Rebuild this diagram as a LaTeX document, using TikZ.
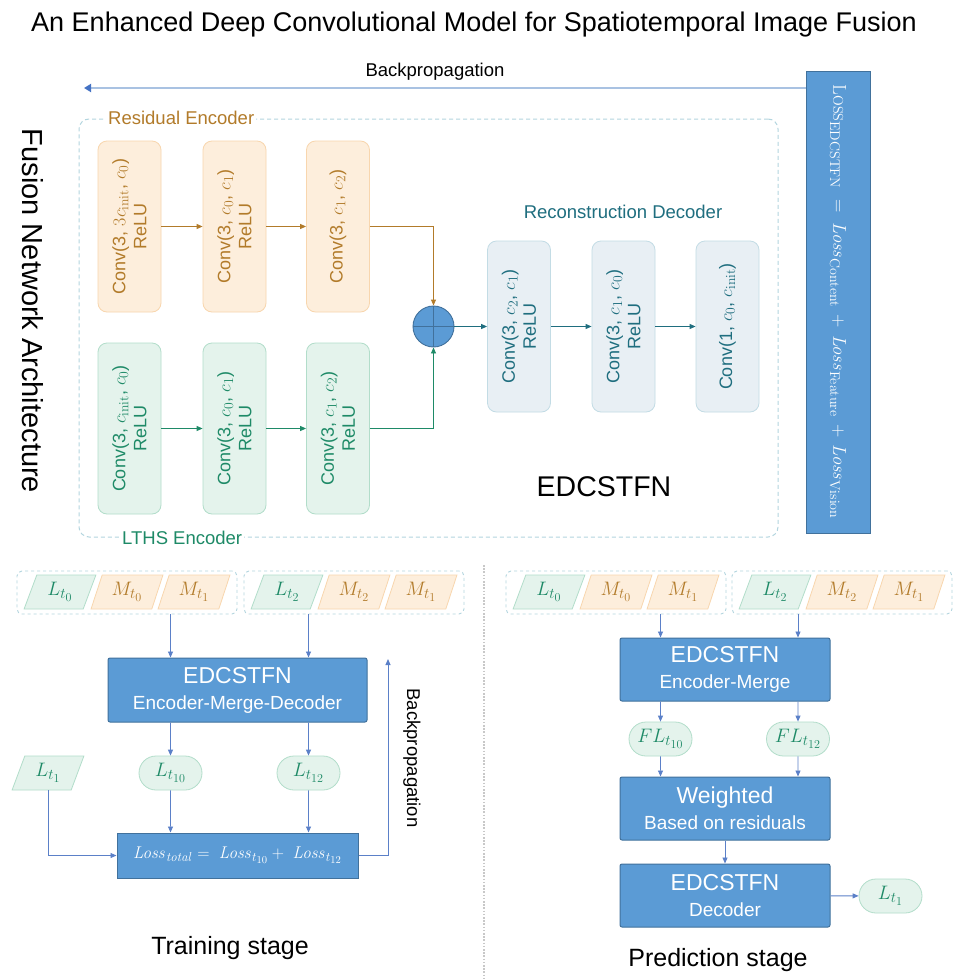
\documentclass[tikz,border=0pt]{standalone}
\usepackage{fix-cm}
\usepackage[no-math]{fontspec}
\setmainfont{Liberation Sans}
\usetikzlibrary{arrows.meta,shapes.geometric,shapes.misc,calc}
\renewcommand\defaultscriptratio{.76}
\renewcommand\defaultscriptscriptratio{.62}
\definecolor{obox}{HTML}{FDEEDC}
\definecolor{oline}{HTML}{F8D6AE}
\definecolor{otext}{HTML}{B27B2A}
\definecolor{gbox}{HTML}{E4F3EC}
\definecolor{gline}{HTML}{B2DDCA}
\definecolor{gtext}{HTML}{1E8A67}
\definecolor{dbox}{HTML}{E8EFF4}
\definecolor{dline}{HTML}{C3DCE5}
\definecolor{dtext}{HTML}{1F6E7F}
\definecolor{bfill}{HTML}{5B9BD5}
\definecolor{bline}{HTML}{41719C}
\definecolor{arr}{HTML}{5B80C8}
\definecolor{frm}{HTML}{B3D5DF}
\definecolor{bpline}{HTML}{A9C2E2}
\definecolor{bptip}{HTML}{4472C4}
\definecolor{sepc}{HTML}{C8C8C8}
\newcommand\fsz[2]{\fontsize{#1}{#2}\selectfont}
\begin{document}
\begin{tikzpicture}[x=1pt,y=-1pt,
  conv/.style={rounded corners=9pt, rotate=90, minimum width=171pt, minimum height=63pt, align=center, inner sep=0pt, font=\fsz{18}{21}, line width=0.8pt},
  obx/.style={conv, fill=obox, draw=oline, text=otext},
  gbx/.style={conv, fill=gbox, draw=gline, text=gtext},
  dbx/.style={conv, fill=dbox, draw=dline, text=dtext},
  bluebox/.style={fill=bfill, draw=bline, line width=1pt, text=white, align=center, rounded corners=2pt, font=\fsz{19}{26}},
  para/.style={trapezium, trapezium left angle=70, trapezium right angle=110, trapezium stretches=true, minimum width=72pt, minimum height=34pt, inner sep=0pt, line width=0.8pt, font=\fsz{19.5}{22}},
  gpara/.style={para, fill=gbox, draw=gline, text=gtext},
  opara/.style={para, fill=obox, draw=oline, text=otext},
  stad/.style={rounded rectangle, minimum width=63pt, minimum height=34pt, inner sep=0pt, fill=gbox, draw=gline, text=gtext, line width=0.8pt, font=\fsz{19.5}{22}},
  grp/.style={draw=frm, dashed, rounded corners=5pt, minimum height=43pt, minimum width=220pt, line width=0.9pt},
  barr/.style={draw=arr, line width=0.9pt, -{Triangle[length=6pt,width=5pt]}},
  oarr/.style={draw=otext, line width=0.9pt, -{Triangle[length=6pt,width=5pt]}},
  garr/.style={draw=gtext, line width=0.9pt, -{Triangle[length=6pt,width=5pt]}},
  darr/.style={draw=dtext, line width=0.9pt, -{Triangle[length=6pt,width=5pt]}},
  lbl/.style={font=\fsz{18.5}{22}, inner sep=2pt}
]
\useasboundingbox[fill=white] (0,0) rectangle (966,980);

% ---------- title and side labels ----------
\node[anchor=base, font=\fsz{27}{30}] (title) at (474,31) {An Enhanced Deep Convolutional Model for Spatiotemporal Image Fusion};
\node[rotate=-90, font=\fsz{29}{32}] (fna) at (33,311) {Fusion Network Architecture};

% ---------- loss bar and top backprop ----------
\node[bluebox, rounded corners=0pt, rotate=-90, minimum width=462pt, minimum height=64pt, font=\fsz{18.5}{22}] (loss) at (838,302)
  {$\mathrm{L}{\scriptstyle\mathrm{OSS}}_{\scriptstyle\mathrm{EDCSTFN}} \;=\; \mathit{Loss}_{\mathrm{Content}} \,+\, \mathit{Loss}_{\mathrm{Feature}} \,+\, \mathit{Loss}_{\mathrm{Vision}}$};
\coordinate (bpend) at (84,88);
\draw[draw=bpline, line width=2.5pt, -{Triangle[length=7pt,width=8pt,color=bptip]}] (loss.south |- bpend) -- (bpend);
\node[lbl, anchor=base] (bptxt) at (435,76) {Backpropagation};

% ---------- architecture frame ----------
\node[draw=frm, dashed, dash pattern=on 4pt off 3pt, rounded corners=10pt, line width=1pt, minimum width=699pt, minimum height=418pt] (arch) at (428.5,328) {};
\node[lbl, text=otext, fill=white, anchor=west] (reslbl) at (106,118) {Residual Encoder};
\node[lbl, text=gtext, fill=white, anchor=west] (lthslbl) at (120,538) {LTHS Encoder};
\node[lbl, text=dtext] (reclbl) at (623,212) {Reconstruction Decoder};
\node[font=\fsz{28.5}{32}] (edlbl) at (604,487) {EDCSTFN};

% encoder boxes
\node[obx] (o1) at (129.5,226.5) {Conv(3, $3c_{\mathrm{init}}$, $c_0$)\\ReLU};
\node[obx] (o2) at (234.5,226.5) {Conv(3, $c_0$, $c_1$)\\ReLU};
\node[obx] (o3) at (338,226.5) {Conv(3, $c_1$, $c_2$)};
\node[gbx] (g1) at (129.5,428.5) {Conv(3, $c_{\mathrm{init}}$, $c_0$)\\ReLU};
\node[gbx] (g2) at (234.5,428.5) {Conv(3, $c_0$, $c_1$)\\ReLU};
\node[gbx] (g3) at (338,428.5) {Conv(3, $c_1$, $c_2$)\\ReLU};
% merge
\node[circle, fill=bfill, draw=bline, line width=0.9pt, minimum size=41pt, inner sep=0pt] (sum) at (433.5,326.5) {};
\draw[bline, line width=0.9pt] (sum.north) -- (sum.south) (sum.west) -- (sum.east);
% decoder boxes
\node[dbx] (d1) at (519,326.5) {Conv(3, $c_2$, $c_1$)\\ReLU};
\node[dbx] (d2) at (623.5,326.5) {Conv(3, $c_1$, $c_0$)\\ReLU};
\node[dbx] (d3) at (727.5,326.5) {Conv(1, $c_0$, $c_{\mathrm{init}}$)};

\draw[oarr] (o1) -- (o2);
\draw[oarr] (o2) -- (o3);
\draw[oarr] (o3) -| (sum);
\draw[garr] (g1) -- (g2);
\draw[garr] (g2) -- (g3);
\draw[garr] (g3) -| (sum);
\draw[darr] (sum) -- (d1);
\draw[darr] (d1) -- (d2);
\draw[darr] (d2) -- (d3);

% ---------- separator ----------
\draw[sepc, line width=1.6pt, dash pattern=on 1.6pt off 1.6pt] (484,565) -- (484,980);

% ---------- training stage ----------
\node[grp] (tg1) at (127,592.5) {};
\node[grp] (tg2) at (354,592.5) {};
\node[gpara] (tl0) at (60,592) {$L_{t_0}$};
\node[opara] (tm0) at (127,592) {$M_{t_0}$};
\node[opara] (tm1) at (194,592) {$M_{t_1}$};
\node[gpara] (tl2) at (287,592) {$L_{t_2}$};
\node[opara] (tm2) at (354,592) {$M_{t_2}$};
\node[opara] (tm1b) at (421,592) {$M_{t_1}$};

\node[bluebox, minimum width=259pt, minimum height=64pt] (tbox) at (237.5,690)
  {{\fsz{23}{25}EDCSTFN}\\{\fsz{19}{21}Encoder-Merge-Decoder}};
\node[stad] (lt10) at (170.5,773) {$L_{t_{10}}$};
\node[stad] (lt12) at (308.5,773) {$L_{t_{12}}$};
\node[gpara] (lt1) at (48,773) {$L_{t_1}$};
\node[bluebox, rounded corners=0pt, minimum width=241pt, minimum height=45pt, font=\fsz{17}{20}] (lossbox) at (237.5,855.5)
  {$\mathit{Loss}_{\mathit{total}} = \;\mathit{Loss}_{t_{10}} + \;\mathit{Loss}_{t_{12}}$};
\coordinate (bptop) at (388,659);

\draw[barr] (tg1.south -| lt10) -- (tbox.north -| lt10);
\draw[barr] (tg2.south -| lt12) -- (tbox.north -| lt12);
\draw[barr] (tbox.south -| lt10) -- (lt10);
\draw[barr] (tbox.south -| lt12) -- (lt12);
\draw[barr] (lt10) -- (lossbox.north -| lt10);
\draw[barr] (lt12) -- (lossbox.north -| lt12);
\draw[barr] (lt1) |- (lossbox);
\draw[barr] (lossbox) -| (bptop);
\node[lbl, rotate=-90] (bp2) at (412,758) {Backpropagation};
\node[font=\fsz{25}{28}] (trs) at (230,948) {Training stage};

% ---------- prediction stage ----------
\node[grp] (pg1) at (616,592.5) {};
\node[grp] (pg2) at (842,592.5) {};
\node[gpara] (pl0) at (549,592) {$L_{t_0}$};
\node[opara] (pm0) at (616,592) {$M_{t_0}$};
\node[opara] (pm1) at (683,592) {$M_{t_1}$};
\node[gpara] (pl2) at (775,592) {$L_{t_2}$};
\node[opara] (pm2) at (842,592) {$M_{t_2}$};
\node[opara] (pm1b) at (909,592) {$M_{t_1}$};

\node[bluebox, minimum width=210pt, minimum height=63pt] (pbox) at (725,669.5)
  {{\fsz{23}{25}EDCSTFN}\\{\fsz{19}{21}Encoder-Merge}};
\node[stad] (fl10) at (660.5,739) {$FL_{t_{10}}$};
\node[stad] (fl12) at (798,739) {$FL_{t_{12}}$};
\node[bluebox, minimum width=210pt, minimum height=63pt] (wbox) at (725,808.5)
  {{\fsz{23}{25}Weighted}\\{\fsz{19}{21}Based on residuals}};
\node[bluebox, minimum width=210pt, minimum height=63pt] (decbox) at (725,895.5)
  {{\fsz{23}{25}EDCSTFN}\\{\fsz{19}{21}Decoder}};
\node[stad] (plt1) at (890.5,896) {$L_{t_1}$};

\draw[barr] (pg1.south -| fl10) -- (pbox.north -| fl10);
\draw[barr] (pg2.south -| fl12) -- (pbox.north -| fl12);
\draw[barr] (pbox.south -| fl10) -- (fl10);
\draw[barr] (pbox.south -| fl12) -- (fl12);
\draw[barr] (fl10) -- (wbox.north -| fl10);
\draw[barr] (fl12) -- (wbox.north -| fl12);
\draw[barr] (wbox) -- (decbox);
\draw[barr] (decbox) -- (plt1);
\node[font=\fsz{25}{28}] (prs) at (718,960) {Prediction stage};
\end{tikzpicture}
\end{document}
